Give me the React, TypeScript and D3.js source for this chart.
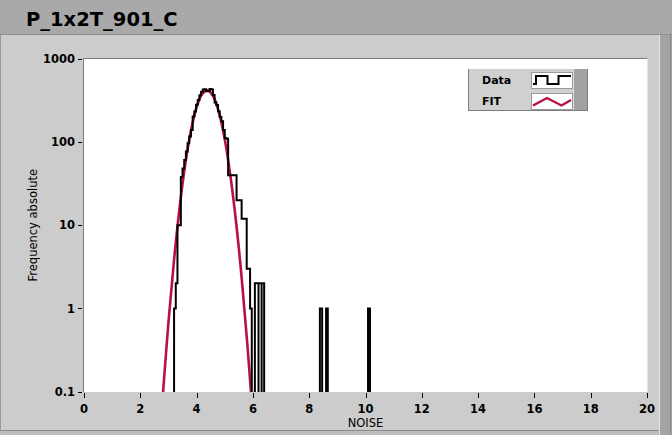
import React from 'react';
import * as d3 from 'd3';

const chartTitle = 'P_1x2T_901_C';
const xLabel = 'NOISE';
const yLabel = 'Frequency absolute';
const xTicks = [0, 2, 4, 6, 8, 10, 12, 14, 16, 18, 20];
const yTicks = [0.1, 1, 10, 100, 1000];
const yTickLabels = ['0.1', '1', '10', '100', '1000'];

// Histogram ("Data"): contiguous bins, edges (n+1) and counts (n)
const binEdges = [
  3.20, 3.26, 3.32, 3.38, 3.44, 3.50, 3.56, 3.62, 3.68, 3.74, 3.80, 3.86, 3.92, 3.98,
  4.04, 4.10, 4.16, 4.22, 4.28, 4.34, 4.40, 4.46, 4.52, 4.58, 4.64, 4.70, 4.76, 4.82,
  4.88, 4.94, 5.00, 5.06, 5.12, 5.18, 5.24, 5.30, 5.36, 5.42, 5.48, 5.54, 5.60, 5.66,
  5.72, 5.78, 5.84, 5.90, 5.96,
];
const binCounts = [
  1, 2, 10, 10, 38, 48, 61, 77, 97, 117, 140, 203, 233, 282,
  322, 366, 405, 430, 432, 408, 412, 435, 430, 370, 300, 280, 235, 200,
  178, 140, 112, 110, 40, 40, 40, 40, 40, 20, 20, 20, 12, 12,
  12, 3, 3, 1,
];
// Isolated outlier bins of the histogram
const tailLeft = [6.07, 6.20, 6.31, 8.38, 8.60, 10.09];
const tailRight = [6.20, 6.31, 6.40, 8.46, 8.66, 10.16];
const tailCounts = [2, 2, 2, 1, 1, 1];

// Fit curve ("FIT")
const fitX = [2.8, 3.0, 3.2, 3.4, 3.6, 3.8, 4.0, 4.2, 4.4, 4.6, 4.8, 5.0, 5.2, 5.4, 5.6, 5.8, 6.0];
const fitY = [0.09, 0.68, 3.86, 16.7, 55.1, 138, 263, 380, 419, 350, 223, 108, 39.6, 11.1, 2.35, 0.38, 0.047];

const legendNames = ['Data', 'FIT'];

const FONT = '"DejaVu Sans", Verdana, sans-serif';
const RED = '#b8103f';

export default function App() {
  const W = 672;
  const H = 435;
  const left = 84, right = 647, top = 59, bot = 391.5;
  const x = d3.scaleLinear().domain([0, 20]).range([left, right]);
  const y = d3.scaleLog().domain([0.1, 1000]).range([bot, top]);
  const below = bot + 6;

  // main histogram outline
  let main = `M${x(binEdges[0])},${below}`;
  binCounts.forEach((c, i) => {
    main += `L${x(binEdges[i])},${y(c)}L${x(binEdges[i + 1])},${y(c)}`;
  });
  main += `L${x(binEdges[binEdges.length - 1])},${below}`;

  let tail = '';
  tailCounts.forEach((c, i) => {
    tail += `M${x(tailLeft[i])},${below}L${x(tailLeft[i])},${y(c)}L${x(tailRight[i])},${y(c)}L${x(tailRight[i])},${below}`;
  });

  const fitPts: [number, number][] = fitX.map((v, i) => [v, fitY[i]]);
  const fitLine = d3
    .line<[number, number]>()
    .x((d) => x(d[0]))
    .y((d) => y(d[1]))
    .curve(d3.curveCatmullRom.alpha(0.5));

  // legend geometry
  const lgX = 468, lgY = 69, lgW = 105, lgH = 42, stripW = 15;
  const swX = 531, swW = 41, swH = 16;
  const rowTop = [lgY + 3, lgY + 24];

  return (
    <div style={{ position: 'fixed', left: 0, top: 0 }}>
      <svg width={W} height={H} style={{ display: 'block' }}>
        <defs>
          <clipPath id="plotClip">
            <rect x={left} y={top} width={right - left} height={bot - top + 0.5} />
          </clipPath>
        </defs>
        {/* background panels */}
        <rect x={0} y={0} width={W} height={H} fill="#cccccc" />
        <rect x={0} y={0} width={W} height={34} fill="#a9a9a9" />
        <line x1={0} x2={W} y1={34.5} y2={34.5} stroke="#8e8e8e" />
        <line x1={0.5} x2={0.5} y1={35} y2={H} stroke="#9a9a9a" />
        <rect x={659} y={35} width={13} height={H - 35} fill="#a4a4a4" />
        <line x1={659.5} x2={659.5} y1={35} y2={H} stroke="#e2e2e2" />
        <line x1={670.5} x2={670.5} y1={35} y2={H} stroke="#888888" />
        <line x1={0} x2={659} y1={430.5} y2={430.5} stroke="#8a8a8a" />
        <rect x={0} y={431} width={659} height={4} fill="#bdbdbd" />

        <text x={26} y={26} fontFamily={FONT} fontWeight="bold" fontSize={19.5} fill="#000">
          {chartTitle}
        </text>

        {/* plot area */}
        <rect x={left - 0.5} y={top - 0.5} width={right - left + 1} height={bot - top + 1} fill="#ffffff" />
        <line x1={left - 0.5} x2={left - 0.5} y1={top - 0.5} y2={bot + 0.5} stroke="#7c7c7c" />
        <line x1={left - 0.5} x2={right + 0.5} y1={top - 0.5} y2={top - 0.5} stroke="#7c7c7c" />

        {/* y axis */}
        {yTicks.map((t, i) => (
          <g key={'y' + i}>
            <line x1={78} x2={82} y1={Math.round(y(t)) + 0.5} y2={Math.round(y(t)) + 0.5} stroke="#000" />
            <text
              x={75}
              y={y(t)}
              dy="0.36em"
              textAnchor="end"
              fontFamily={FONT}
              fontWeight="bold"
              fontSize={11.5}
              fill="#000"
            >
              {yTickLabels[i]}
            </text>
          </g>
        ))}
        <text
          transform={`translate(37,${(top + bot) / 2}) rotate(-90)`}
          textAnchor="middle"
          fontFamily={FONT}
          fontSize={11.5}
          fill="#000"
        >
          {yLabel}
        </text>

        {/* x axis */}
        {xTicks.map((t) => (
          <g key={'x' + t}>
            <line x1={Math.round(x(t)) + 0.5} x2={Math.round(x(t)) + 0.5} y1={393} y2={398} stroke="#000" />
            <text
              x={x(t)}
              y={413}
              textAnchor="middle"
              fontFamily={FONT}
              fontWeight="bold"
              fontSize={11.5}
              fill="#000"
            >
              {t}
            </text>
          </g>
        ))}
        <text x={(left + right) / 2} y={427} textAnchor="middle" fontFamily={FONT} fontSize={11.5} fill="#000">
          {xLabel}
        </text>

        {/* data */}
        <g clipPath="url(#plotClip)">
          <path d={fitLine(fitPts) || ''} fill="none" stroke={RED} strokeWidth={2.6} />
          <path d={main} fill="none" stroke="#000" strokeWidth={2} />
          <path d={tail} fill="none" stroke="#000" strokeWidth={2} />
        </g>

        {/* legend */}
        <rect x={lgX} y={lgY} width={lgW} height={lgH} fill="#d0d0d0" />
        <rect x={lgX + lgW} y={lgY} width={stripW} height={lgH} fill="#a2a2a2" />
        <line x1={lgX + lgW + 0.5} x2={lgX + lgW + 0.5} y1={lgY} y2={lgY + lgH} stroke="#dedede" />
        <line x1={lgX + lgW + stripW - 0.5} x2={lgX + lgW + stripW - 0.5} y1={lgY} y2={lgY + lgH} stroke="#7e7e7e" />
        <line x1={lgX + 0.5} x2={lgX + 0.5} y1={lgY} y2={lgY + lgH} stroke="#7e7e7e" />
        <line x1={lgX} x2={lgX + lgW + stripW} y1={lgY + lgH - 0.5} y2={lgY + lgH - 0.5} stroke="#7e7e7e" />
        {legendNames.map((n, i) => (
          <g key={n}>
            <text
              x={482}
              y={rowTop[i] + 12}
              fontFamily={FONT}
              fontWeight="bold"
              fontSize={11}
              fill="#000"
            >
              {n}
            </text>
            <rect x={swX + 0.5} y={rowTop[i] + 0.5} width={swW} height={swH} fill="#ffffff" stroke="#9a9a9a" />
          </g>
        ))}
        <path
          d={`M${swX + 2},${rowTop[0] + 12}H${swX + 5}V${rowTop[0] + 4}H${swX + 16.5}V${rowTop[0] + 12}H${swX + 27.5}V${rowTop[0] + 4}H${swX + 40}`}
          fill="none"
          stroke="#000"
          strokeWidth={2}
        />
        <path
          d={`M${swX + 2},${rowTop[1] + 12.5}L${swX + 16},${rowTop[1] + 5}L${swX + 30.5},${rowTop[1] + 12.5}L${swX + 40},${rowTop[1] + 7}`}
          fill="none"
          stroke={RED}
          strokeWidth={2.4}
        />
      </svg>
    </div>
  );
}
